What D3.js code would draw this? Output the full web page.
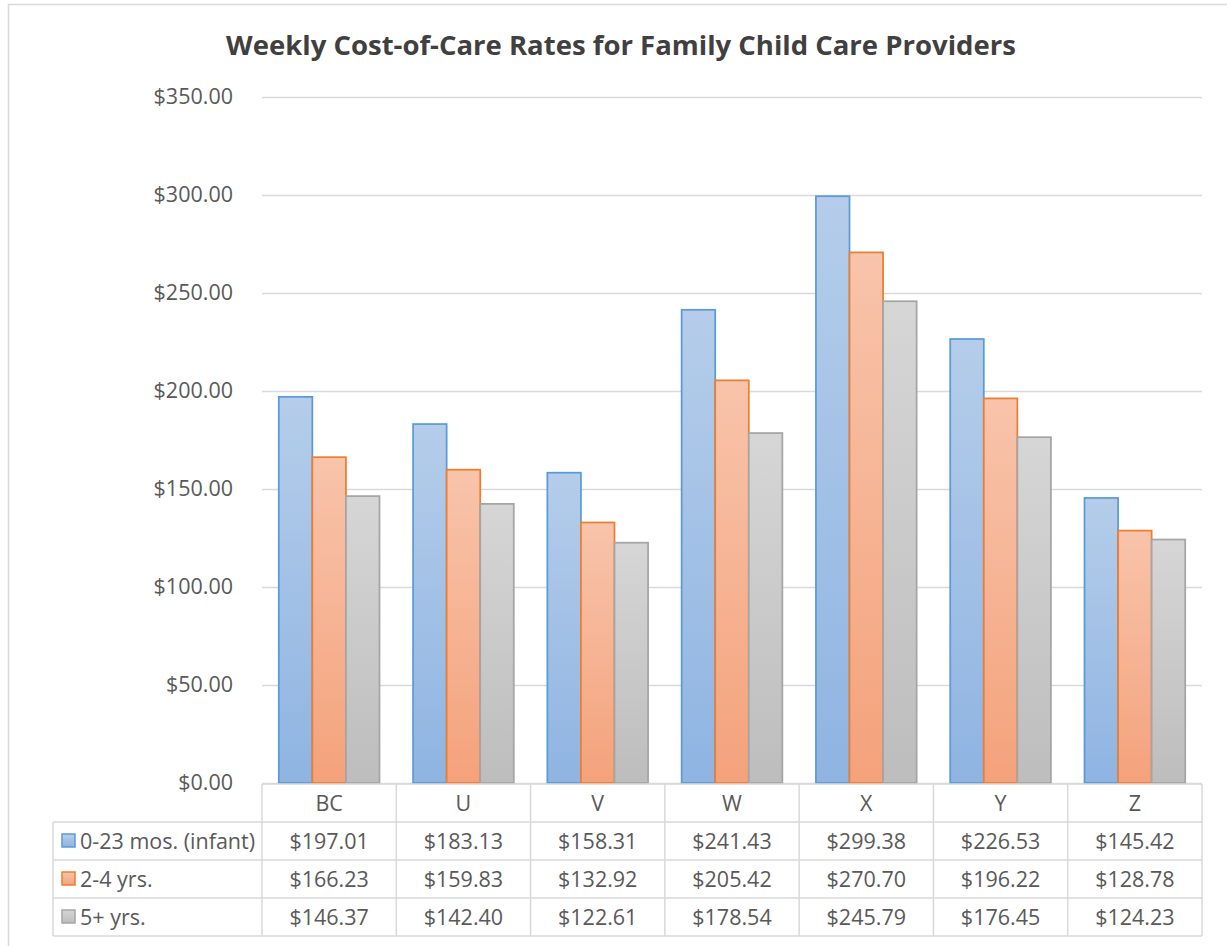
<!DOCTYPE html>
<html>
<head>
<meta charset="utf-8">
<script src="https://cdn.jsdelivr.net/npm/d3@7"></script>
<style>
  html, body { margin: 0; padding: 0; background: #fff; }
  svg { display: block; font-family: 'Open Sans', sans-serif; }
</style>
</head>
<body>
<div id="chart"></div>
<script>
const title = 'Weekly Cost-of-Care Rates for Family Child Care Providers';
const categories = ['BC', 'U', 'V', 'W', 'X', 'Y', 'Z'];
const seriesNames = ['0-23 mos. (infant)', '2-4 yrs.', '5+ yrs.'];
const infant = [197.01, 183.13, 158.31, 241.43, 299.38, 226.53, 145.42];
const toddler = [166.23, 159.83, 132.92, 205.42, 270.70, 196.22, 128.78];
const school = [146.37, 142.40, 122.61, 178.54, 245.79, 176.45, 124.23];
const yTicks = [0, 50, 100, 150, 200, 250, 300, 350];

const seriesValues = [infant, toddler, school];
const seriesStyle = [
  { top: '#b5cdea', bottom: '#8fb4e2', stroke: '#5b9bd5' },
  { top: '#f8c4ab', bottom: '#f4a27b', stroke: '#ed7d31' },
  { top: '#d6d6d6', bottom: '#bdbdbd', stroke: '#a5a5a5' }
];

const width = 1227;
const height = 946;
const plot = { left: 262, right: 1202, top: 97, bottom: 783 };
const rowH = 38;
const headerH = 38;
const legendLeft = 53;
const textColor = '#595959';
const gridColor = '#d9d9d9';
const fontSize = '21.5px';
const fmt = d3.format('$,.2f');

const svg = d3.select('#chart').append('svg')
  .attr('width', width)
  .attr('height', height);

/* Frame & title
=========================================================================*/
svg.append('rect')
  .attr('x', 8.5).attr('y', 4.5)
  .attr('width', 1240).attr('height', 960)
  .attr('fill', '#fff').attr('stroke', gridColor).attr('stroke-width', 1.5);

svg.append('text')
  .attr('x', 621).attr('y', 55)
  .attr('text-anchor', 'middle')
  .attr('fill', '#404040')
  .style('font-size', '27.5px').style('font-weight', 700)
  .text(title);

/* Scales
=========================================================================*/
const x = d3.scaleBand().domain(categories).range([plot.left, plot.right])
  .paddingInner(0.25).paddingOuter(0.125);
const step = x.step();
const xSub = d3.scaleBand().domain(d3.range(seriesNames.length)).range([0, x.bandwidth()]);
const y = d3.scaleLinear().domain([0, 350]).range([plot.bottom, plot.top]);

/* Grid & y axis
=========================================================================*/
const yAxis = d3.axisLeft(y).tickValues(yTicks).tickFormat(fmt)
  .tickSize(-(plot.right - plot.left)).tickPadding(29);

svg.append('g')
  .attr('transform', `translate(${plot.left},0)`)
  .call(yAxis)
  .call(g => g.select('.domain').remove())
  .call(g => g.selectAll('.tick line').attr('stroke', gridColor).attr('stroke-width', 1.5))
  .call(g => g.selectAll('.tick text').attr('fill', textColor)
    .style('font-size', fontSize).style('font-family', "'Open Sans', sans-serif"));

/* Bars
=========================================================================*/
const defs = svg.append('defs');
seriesStyle.forEach((s, i) => {
  const grad = defs.append('linearGradient')
    .attr('id', `grad${i}`).attr('x1', 0).attr('y1', 0).attr('x2', 0).attr('y2', 1);
  grad.append('stop').attr('offset', 0).attr('stop-color', s.top);
  grad.append('stop').attr('offset', 1).attr('stop-color', s.bottom);
});

seriesValues.forEach((vals, si) => {
  svg.append('g').selectAll('rect')
    .data(vals)
    .join('rect')
    .attr('x', (d, i) => x(categories[i]) + xSub(si))
    .attr('y', d => y(d))
    .attr('width', xSub.bandwidth())
    .attr('height', d => y(0) - y(d))
    .attr('fill', `url(#grad${si})`)
    .attr('stroke', seriesStyle[si].stroke)
    .attr('stroke-width', 1.75);
});

/* Data table
=========================================================================*/
const table = svg.append('g').attr('class', 'table');
const tTop = plot.bottom + 1;
const tBottom = tTop + headerH + rowH * seriesNames.length;
const lineAttrs = sel => sel.attr('stroke', gridColor).attr('stroke-width', 1.5);

// horizontal lines
table.append('line').attr('x1', plot.left).attr('x2', plot.right)
  .attr('y1', tTop).attr('y2', tTop).call(lineAttrs);
d3.range(seriesNames.length + 1).forEach(r => {
  const yy = tTop + headerH + r * rowH;
  table.append('line').attr('x1', legendLeft).attr('x2', plot.right)
    .attr('y1', yy).attr('y2', yy).call(lineAttrs);
});

// vertical lines
categories.forEach((c, i) => {
  const xx = plot.left + i * step;
  table.append('line').attr('x1', xx).attr('x2', xx)
    .attr('y1', tTop).attr('y2', tBottom).call(lineAttrs);
});
table.append('line').attr('x1', plot.right).attr('x2', plot.right)
  .attr('y1', tTop).attr('y2', tBottom).call(lineAttrs);
table.append('line').attr('x1', legendLeft).attr('x2', legendLeft)
  .attr('y1', tTop + headerH).attr('y2', tBottom).call(lineAttrs);

// category header
table.selectAll('text.cat')
  .data(categories)
  .join('text')
  .attr('class', 'cat')
  .attr('x', d => x(d) + x.bandwidth() / 2)
  .attr('y', tTop + headerH / 2 + 8)
  .attr('text-anchor', 'middle')
  .attr('fill', textColor)
  .style('font-size', fontSize)
  .text(d => d);

// rows
seriesValues.forEach((vals, si) => {
  const rowMid = tTop + headerH + si * rowH + rowH / 2;

  table.append('rect')
    .attr('x', 62).attr('y', rowMid - 7)
    .attr('width', 13).attr('height', 13)
    .attr('fill', `url(#grad${si})`)
    .attr('stroke', seriesStyle[si].stroke)
    .attr('stroke-width', 1.5);

  table.append('text')
    .attr('x', 80).attr('y', rowMid + 8)
    .attr('fill', textColor)
    .style('font-size', fontSize)
    .text(seriesNames[si]);

  table.selectAll(null)
    .data(vals)
    .join('text')
    .attr('x', (d, i) => x(categories[i]) + x.bandwidth() / 2)
    .attr('y', rowMid + 8)
    .attr('text-anchor', 'middle')
    .attr('fill', textColor)
    .style('font-size', fontSize)
    .text(d => fmt(d));
});
</script>
</body>
</html>
